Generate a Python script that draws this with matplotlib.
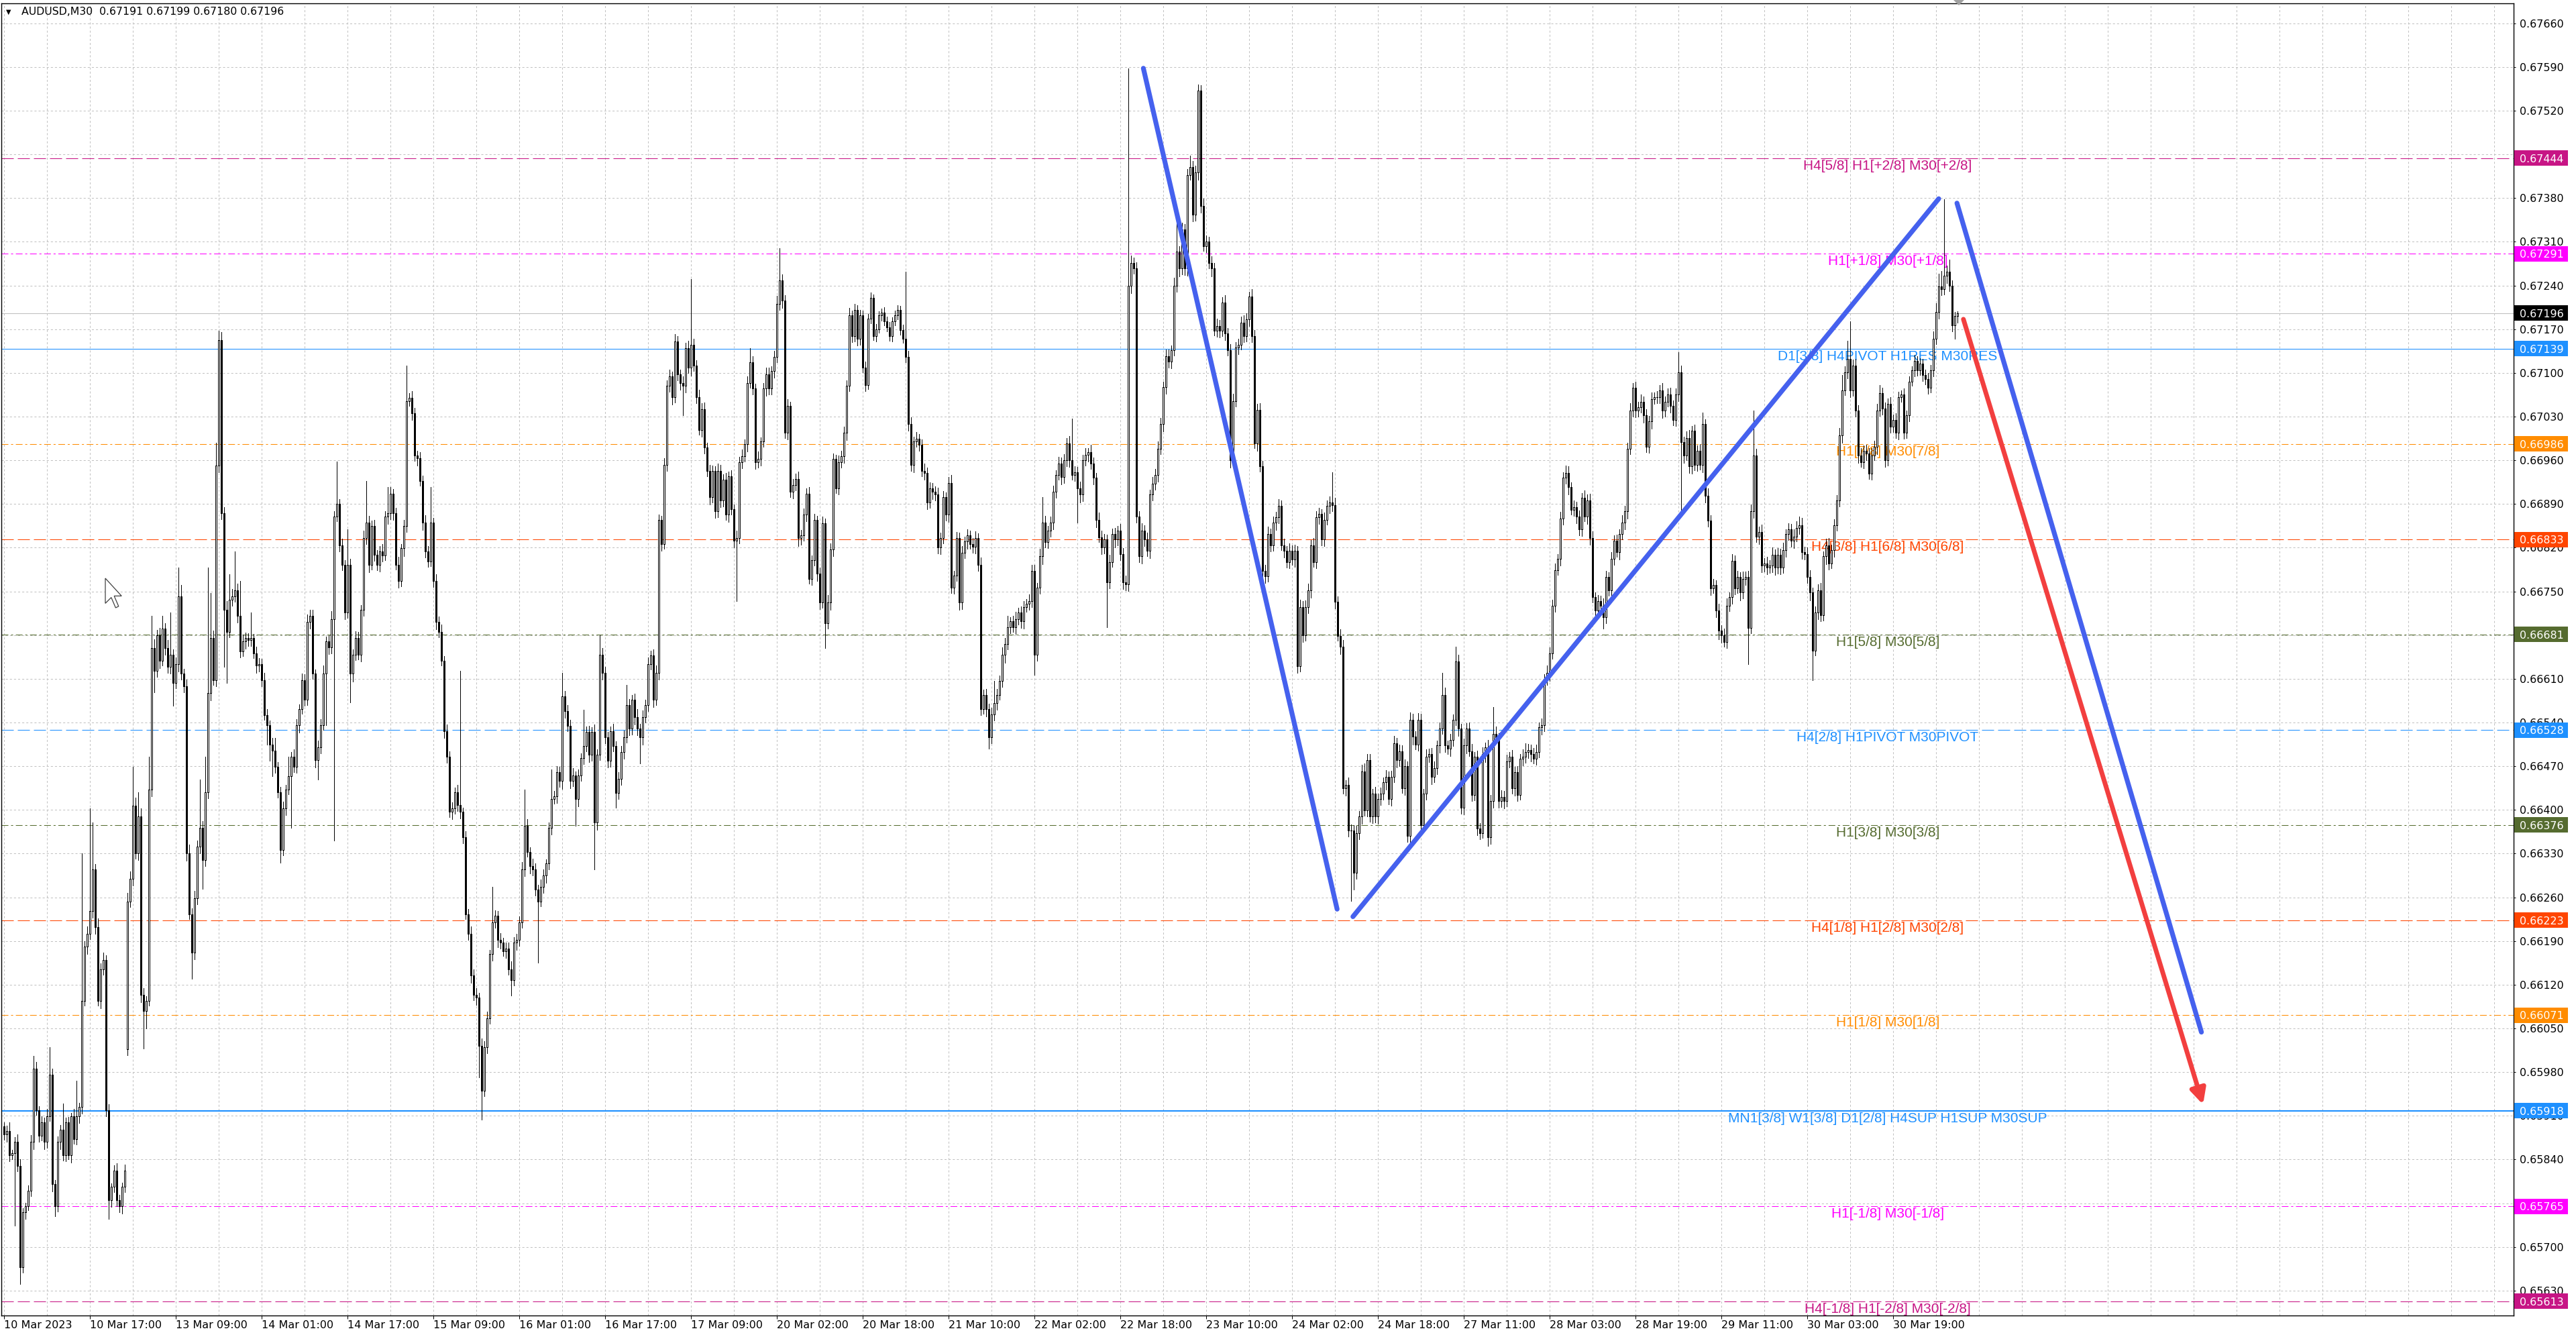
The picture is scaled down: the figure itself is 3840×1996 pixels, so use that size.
import numpy as np
import matplotlib
matplotlib.use("Agg")
import matplotlib.pyplot as plt
from matplotlib.patches import Rectangle, Polygon
from matplotlib.transforms import blended_transform_factory

plt.rcParams['font.family'] = 'DejaVu Sans'
plt.rcParams['lines.scale_dashes'] = False

# ================== data (prices in points above 0.65000) ==================
BASE = 0.65
FIRST_OPEN = 893
GAP_OPEN = {46: 1017}          # monday gap after the weekend

CLOSE = [
    880, 885, 847, 850, 868, 830, 667, 755, 765, 790, 868, 986, 919, 878, 900, 868,
    909, 976, 801, 765, 868, 888, 847, 899, 847, 909, 873, 909, 924, 1094, 1181, 1202,
    1238, 1305, 1212, 1094, 1145, 1160, 919, 775, 796, 822, 775, 765, 796, 822, 1253, 1290,
    1407, 1330, 1390, 1104, 1078, 1094, 1433, 1659, 1623, 1680, 1639, 1690, 1659, 1629, 1649, 1603,
    1634, 1742, 1618, 1598, 1330, 1233, 1171, 1258, 1341, 1371, 1320, 1428, 1587, 1675, 1608, 1952,
    2153, 1875, 1721, 1685, 1737, 1742, 1752, 1711, 1654, 1670, 1675, 1672, 1675, 1651, 1631, 1634,
    1608, 1552, 1536, 1505, 1495, 1469, 1428, 1336, 1402, 1433, 1454, 1485, 1469, 1536, 1562, 1608,
    1577, 1701, 1711, 1618, 1480, 1500, 1536, 1618, 1670, 1660, 1706, 1870, 1890, 1824, 1793, 1716,
    1793, 1618, 1649, 1675, 1649, 1721, 1835, 1860, 1793, 1855, 1809, 1793, 1814, 1808, 1870, 1875,
    1906, 1875, 1793, 1767, 1819, 1855, 2055, 2060, 2035, 1968, 1963, 1927, 1860, 1814, 1798, 1860,
    1767, 1701, 1685, 1639, 1526, 1485, 1397, 1402, 1428, 1408, 1397, 1356, 1233, 1202, 1135, 1104,
    1099, 1022, 950, 1020, 1066, 1169, 1220, 1230, 1192, 1188, 1174, 1178, 1145, 1127, 1188, 1192,
    1220, 1305, 1375, 1333, 1310, 1305, 1272, 1253, 1277, 1295, 1314, 1371, 1418, 1422, 1460, 1446,
    1582, 1558, 1535, 1446, 1455, 1418, 1455, 1483, 1502, 1525, 1488, 1525, 1380, 1488, 1648, 1619,
    1516, 1479, 1526, 1502, 1427, 1450, 1493, 1516, 1568, 1530, 1577, 1549, 1530, 1516, 1549, 1568,
    1633, 1647, 1577, 1619, 1864, 1826, 1953, 2079, 2094, 2061, 2150, 2098, 2084, 2079, 2140, 2108,
    2145, 2112, 2061, 2009, 2042, 1981, 1943, 1901, 1943, 1878, 1943, 1896, 1929, 1873, 1934, 1882,
    1831, 1835, 1957, 1967, 1986, 2084, 2117, 2075, 1957, 1962, 1990, 2075, 2098, 2075, 2103, 2126,
    2211, 2248, 2216, 2004, 2047, 1910, 1920, 1930, 1835, 1840, 1873, 1906, 1770, 1800, 1864, 1779,
    1732, 1859, 1699, 1732, 1817, 1962, 1915, 1957, 1967, 2004, 2079, 2192, 2159, 2201, 2155, 2192,
    2108, 2080, 2187, 2220, 2159, 2170, 2192, 2197, 2183, 2173, 2159, 2183, 2192, 2201, 2169, 2155,
    2126, 2018, 1953, 1990, 1995, 1985, 1943, 1940, 1892, 1915, 1910, 1905, 1821, 1835, 1901, 1873,
    1924, 1756, 1775, 1835, 1732, 1812, 1830, 1840, 1826, 1822, 1835, 1792, 1562, 1584, 1562, 1516,
    1553, 1571, 1584, 1607, 1648, 1666, 1693, 1702, 1693, 1706, 1716, 1702, 1725, 1730, 1734, 1783,
    1648, 1756, 1806, 1860, 1829, 1847, 1860, 1910, 1937, 1955, 1933, 1960, 1987, 1960, 1937, 1941,
    1915, 1905, 1960, 1969, 1973, 1955, 1932, 1865, 1837, 1820, 1833, 1765, 1797, 1842, 1833, 1847,
    1810, 1765, 1761, 2240, 2276, 2267, 1870, 1806, 1847, 1833, 1815, 1905, 1923, 1937, 1978, 2018,
    2077, 2127, 2118, 2136, 2240, 2294, 2267, 2330, 2267, 2417, 2430, 2353, 2421, 2552, 2367, 2303,
    2310, 2276, 2267, 2168, 2175, 2168, 2213, 2163, 2136, 1960, 2055, 2141, 2145, 2181, 2159, 2186,
    2222, 2159, 1987, 2041, 1951, 1783, 1774, 1842, 1824, 1860, 1869, 1887, 1824, 1815, 1797, 1815,
    1801, 1815, 1630, 1725, 1680, 1725, 1752, 1824, 1797, 1869, 1874, 1833, 1865, 1887, 1892, 1888,
    1733, 1679, 1661, 1435, 1440, 1367, 1367, 1299, 1363, 1390, 1462, 1399, 1480, 1390, 1426, 1390,
    1417, 1426, 1444, 1453, 1417, 1453, 1507, 1480, 1494, 1435, 1470, 1358, 1544, 1517, 1505, 1544,
    1376, 1426, 1485, 1489, 1453, 1467, 1503, 1530, 1584, 1503, 1498, 1512, 1544, 1638, 1530, 1403,
    1503, 1530, 1494, 1424, 1485, 1370, 1363, 1489, 1500, 1356, 1414, 1522, 1515, 1414, 1421, 1414,
    1478, 1485, 1435, 1460, 1424, 1482, 1485, 1493, 1496, 1490, 1482, 1493, 1532, 1536, 1608, 1619,
    1651, 1727, 1784, 1802, 1867, 1932, 1940, 1917, 1881, 1885, 1870, 1849, 1900, 1870, 1896, 1835,
    1741, 1719, 1734, 1727, 1709, 1773, 1752, 1802, 1831, 1813, 1842, 1860, 1878, 1978, 2040, 2076,
    2040, 2045, 2054, 2032, 1982, 2022, 2058, 2061, 2061, 2072, 2040, 2054, 2065, 2047, 2025, 2065,
    2101, 1989, 1968, 1996, 1950, 2007, 1953, 1975, 1953, 2018, 1903, 1863, 1755, 1760, 1719, 1687,
    1680, 1669, 1727, 1741, 1799, 1755, 1773, 1748, 1770, 1773, 1691, 1878, 1968, 1838, 1845, 1791,
    1795, 1788, 1791, 1809, 1788, 1809, 1788, 1816, 1842, 1849, 1831, 1838, 1852, 1856, 1813, 1810,
    1773, 1748, 1655, 1716, 1752, 1712, 1806, 1824, 1795, 1816, 1856, 1896, 2000, 2072, 2101, 2122,
    2072, 2112, 2040, 1968, 1957, 1975, 1971, 1939, 1968, 1982, 2040, 2068, 2043, 1960, 2050, 2014,
    2025, 2004, 2061, 2065, 2004, 2032, 2086, 2104, 2119, 2104, 2115, 2097, 2090, 2076, 2104, 2155,
    2198, 2238, 2234, 2256, 2262, 2240, 2176, 2191, 2196,
]

# upper / lower wick beyond the body, points
UP = [
    6, 9, 14, 5, 8, 12, 10, 7, 6, 9, 11, 8, 10, 6, 9, 7,
    12, 8, 10, 6, 9, 7, 11, 8, 9, 6, 12, 10, 7, 15, 9, 11,
    10, 12, 8, 14, 9, 11, 7, 10, 6, 9, 12, 8, 7, 10, 14, 11,
    9, 13, 8, 12, 10, 7, 11, 9, 14, 8, 12, 10, 9, 13, 11, 8,
    10, 9, 12, 8, 11, 14, 9, 12, 10, 8, 11, 9, 13, 10, 12, 9,
    8, 11, 10, 13, 9, 12, 8, 10, 7, 11, 9, 8, 12, 7, 10, 9,
    8, 11, 9, 7, 10, 12, 8, 9, 11, 7, 10, 8, 12, 9, 7, 10,
    9, 12, 8, 10, 7, 11, 9, 13, 8, 10, 12, 9, 11, 8, 10, 7,
    12, 9, 8, 11, 10, 7, 12, 9, 11, 8, 10, 7, 9, 12, 8, 10,
    11, 8, 9, 12, 7, 10, 9, 8, 11, 9, 7, 10, 8, 12, 9, 11,
    8, 10, 9, 12, 7, 11, 9, 10, 8, 12, 9, 7, 10, 8, 11, 9,
    10, 8, 12, 9, 11, 7, 10, 9, 8, 11, 7, 10, 9, 12, 8, 10,
    9, 11, 8, 10, 7, 12, 9, 8, 11, 10, 7, 9, 12, 8, 10, 9,
    11, 8, 10, 9, 12, 7, 10, 8, 11, 9, 10, 7, 12, 9, 8, 11,
    10, 9, 7, 12, 8, 10, 9, 11, 8, 10, 7, 9, 12, 8, 10, 9,
    11, 8, 10, 12, 9, 7, 10, 9, 11, 8, 12, 9, 7, 10, 8, 11,
    9, 10, 8, 12, 9, 11, 7, 10, 9, 8, 12, 10, 9, 11, 8, 10,
    7, 12, 9, 10, 8, 11, 9, 10, 8, 12, 7, 9, 11, 10, 8, 9,
    12, 9, 10, 8, 11, 7, 10, 9, 12, 8, 10, 9, 11, 8, 10, 7,
    9, 11, 8, 12, 10, 9, 7, 11, 8, 10, 9, 12, 8, 10, 7, 9,
    8, 10, 7, 9, 6, 8, 7, 6, 8, 7, 9, 6, 8, 7, 6, 8,
    10, 9, 11, 8, 10, 7, 9, 12, 8, 10, 9, 8, 11, 9, 10, 8,
    9, 12, 8, 10, 9, 11, 8, 10, 7, 9, 11, 8, 12, 9, 10, 8,
    11, 9, 10, 8, 12, 9, 10, 7, 9, 11, 8, 10, 9, 8, 11, 9,
    10, 8, 12, 9, 11, 8, 10, 9, 7, 11, 9, 10, 8, 12, 9, 10,
    8, 11, 9, 10, 7, 12, 9, 8, 11, 10, 9, 8, 12, 9, 10, 8,
    11, 9, 10, 14, 12, 9, 10, 8, 12, 9, 11, 8, 10, 9, 12, 10,
    9, 11, 10, 8, 12, 10, 9, 11, 8, 10, 12, 9, 11, 10, 9, 12,
    10, 8, 11, 9, 12, 10, 8, 11, 9, 10, 12, 8, 10, 9, 11, 10,
    8, 12, 10, 9, 11, 8, 10, 12, 9, 10, 8, 11, 9, 10, 8, 12,
    9, 10, 8, 12, 9, 11, 10, 8, 12, 9, 10, 8, 11, 9, 10, 8,
    12, 9, 10, 11, 8, 12, 10, 9, 11, 8, 10, 12, 9, 10, 8, 11,
    9, 10, 8, 11, 9, 10, 12, 8, 10, 9, 11, 8, 12, 10, 9, 11,
    10, 8, 12, 9, 10, 11, 8, 10, 9, 12, 8, 10, 9, 11, 10, 8,
    11, 9, 10, 12, 8, 10, 9, 11, 8, 12, 10, 9, 11, 8, 10, 9,
    10, 8, 11, 9, 10, 8, 12, 9, 10, 8, 9, 11, 8, 10, 9, 12,
    9, 10, 11, 8, 10, 9, 12, 10, 8, 11, 9, 10, 8, 12, 9, 10,
    11, 8, 10, 9, 12, 10, 8, 11, 9, 10, 8, 12, 9, 10, 11, 8,
    10, 9, 12, 8, 10, 9, 11, 8, 10, 9, 12, 8, 10, 11, 9, 10,
    8, 11, 9, 10, 12, 8, 10, 9, 11, 10, 8, 12, 9, 10, 8, 11,
    9, 10, 12, 8, 11, 9, 10, 8, 12, 9, 10, 11, 8, 10, 9, 12,
    8, 10, 9, 11, 8, 10, 9, 12, 8, 10, 9, 11, 10, 8, 12, 9,
    10, 11, 8, 10, 9, 12, 8, 10, 11, 9, 10, 8, 12, 9, 10, 8,
    11, 9, 10, 8, 12, 9, 10, 8, 11, 9, 10, 12, 8, 10, 9, 11,
    8, 10, 9, 7, 10, 8, 9, 7, 10, 8, 9, 7, 8, 10, 9, 12,
    14, 10, 9, 11, 10, 9, 8, 7, 3,
]
DN = [
    8, 12, 10, 7, 14, 9, 11, 8, 10, 6, 9, 12, 8, 10, 7, 11,
    9, 7, 12, 10, 8, 11, 9, 10, 7, 12, 8, 9, 11, 10, 8, 12,
    9, 11, 10, 8, 12, 9, 10, 14, 11, 8, 10, 9, 12, 8, 10, 9,
    11, 8, 10, 12, 9, 10, 8, 11, 9, 10, 12, 8, 10, 9, 11, 10,
    8, 12, 9, 10, 11, 8, 12, 10, 9, 11, 8, 10, 9, 12, 8, 10,
    11, 9, 10, 12, 8, 10, 9, 11, 10, 8, 12, 9, 10, 8, 11, 9,
    10, 8, 12, 9, 11, 10, 8, 12, 9, 10, 8, 11, 9, 10, 12, 8,
    10, 9, 11, 8, 12, 10, 9, 8, 11, 10, 9, 12, 8, 10, 9, 11,
    8, 10, 12, 9, 8, 11, 10, 9, 12, 8, 10, 9, 11, 10, 8, 12,
    9, 10, 8, 11, 9, 12, 10, 8, 10, 9, 11, 8, 12, 10, 9, 8,
    10, 12, 9, 8, 11, 10, 9, 12, 8, 10, 11, 9, 8, 10, 12, 9,
    11, 10, 12, 9, 10, 8, 11, 9, 12, 10, 8, 11, 9, 10, 8, 12,
    10, 9, 11, 8, 12, 10, 9, 11, 8, 10, 12, 9, 10, 8, 11, 9,
    12, 10, 9, 11, 8, 10, 12, 9, 10, 8, 11, 9, 10, 12, 8, 10,
    9, 11, 10, 8, 12, 9, 10, 11, 8, 10, 9, 12, 10, 8, 11, 9,
    10, 8, 12, 9, 10, 11, 8, 10, 9, 12, 8, 10, 11, 9, 10, 8,
    12, 9, 10, 8, 11, 10, 9, 12, 8, 10, 9, 11, 10, 8, 12, 9,
    10, 11, 8, 10, 9, 12, 8, 10, 11, 9, 10, 8, 12, 9, 10, 11,
    9, 10, 12, 8, 10, 9, 11, 8, 12, 10, 9, 11, 8, 10, 9, 12,
    10, 8, 11, 9, 12, 10, 8, 10, 9, 11, 12, 8, 10, 9, 11, 10,
    7, 9, 6, 8, 7, 9, 6, 8, 7, 6, 8, 9, 7, 6, 8, 7,
    9, 11, 10, 12, 8, 10, 9, 11, 10, 8, 12, 9, 10, 11, 8, 10,
    12, 9, 10, 8, 11, 10, 9, 12, 8, 10, 11, 9, 10, 8, 12, 10,
    9, 10, 11, 8, 10, 12, 9, 10, 8, 11, 9, 10, 12, 8, 10, 9,
    11, 9, 10, 12, 8, 10, 9, 11, 10, 8, 12, 9, 10, 11, 8, 10,
    9, 12, 10, 8, 11, 9, 10, 12, 8, 10, 9, 11, 10, 8, 12, 9,
    10, 11, 9, 10, 12, 8, 10, 9, 11, 10, 8, 12, 9, 10, 11, 8,
    12, 10, 9, 11, 8, 10, 12, 9, 10, 11, 8, 10, 9, 12, 10, 8,
    10, 9, 12, 8, 10, 11, 9, 10, 8, 12, 10, 9, 11, 8, 10, 9,
    11, 10, 8, 12, 9, 10, 11, 8, 10, 9, 12, 10, 8, 11, 9, 10,
    9, 12, 10, 8, 11, 9, 10, 12, 8, 10, 11, 9, 10, 8, 12, 9,
    10, 8, 11, 9, 12, 10, 8, 11, 9, 10, 12, 8, 10, 9, 11, 10,
    12, 9, 10, 11, 8, 10, 9, 12, 10, 8, 11, 9, 10, 12, 8, 10,
    9, 11, 10, 8, 12, 9, 10, 11, 8, 10, 9, 12, 10, 8, 11, 9,
    10, 12, 8, 10, 9, 11, 10, 8, 12, 9, 10, 11, 8, 10, 9, 12,
    8, 10, 9, 12, 10, 8, 11, 9, 10, 12, 8, 10, 9, 11, 10, 8,
    12, 9, 10, 8, 11, 10, 9, 12, 8, 10, 11, 9, 10, 8, 12, 10,
    9, 11, 10, 12, 8, 10, 9, 11, 10, 8, 12, 9, 10, 11, 8, 10,
    11, 10, 8, 12, 9, 10, 11, 8, 10, 9, 12, 10, 8, 11, 9, 10,
    10, 9, 12, 8, 10, 11, 9, 10, 8, 12, 10, 9, 11, 8, 10, 9,
    12, 8, 10, 9, 11, 10, 8, 12, 9, 10, 11, 8, 10, 9, 12, 10,
    9, 11, 8, 10, 12, 9, 10, 8, 11, 10, 9, 12, 8, 10, 11, 9,
    10, 12, 9, 8, 11, 10, 9, 12, 10, 8, 11, 9, 10, 12, 8, 10,
    11, 9, 10, 12, 8, 10, 11, 9, 10, 8, 12, 9, 10, 11, 8, 10,
    9, 8, 10, 7, 9, 8, 10, 7, 9, 8, 7, 10, 8, 9, 7, 10,
    9, 11, 10, 8, 12, 9, 10, 8, 11,
]

# long wicks (bar: price in points)
HIGH_SPIKE = {11: 1006, 17: 1020, 22: 930, 27: 966, 29: 1330, 32: 1402, 33: 1380, 48: 1469,
              50: 1428, 54: 1485, 55: 1711, 59: 1711, 62: 1716, 65: 1788, 66: 1760, 73: 1449,
              75: 1485, 76: 1788, 77: 1747, 79: 1988, 80: 2168, 81: 2165, 84: 1778, 86: 1814,
              88: 1767, 92: 1716, 101: 1515, 106: 1485, 114: 1721, 124: 1958, 128: 1850,
              135: 1927, 143: 1917, 150: 2112, 159: 1917, 170: 1623, 182: 1277, 194: 1432,
              204: 1465, 208: 1619, 216: 1560, 222: 1680, 232: 1600, 250: 2160, 256: 2250,
              278: 2140, 289: 2300, 336: 2262, 369: 1607, 374: 1711, 387: 1901, 396: 1996,
              398: 2027, 419: 2588, 437: 2353, 442: 2448, 445: 2556, 495: 1941, 536: 1620,
              541: 1661, 555: 1565, 567: 1507, 582: 1950, 624: 2133, 633: 2036, 652: 2040,
              669: 1870, 685: 2097, 687: 2151, 688: 2183, 721: 2259, 722: 2263, 723: 2378,
              725: 2281}
LOW_SPIKE = {4: 734, 6: 641, 19: 749, 39: 745, 52: 1018, 53: 1050, 56: 1588, 63: 1567,
             70: 1130, 74: 1274, 82: 1629, 83: 1603, 98: 1505, 99: 1479, 100: 1454, 103: 1315,
             107: 1371, 117: 1449, 120: 1536, 123: 1351, 129: 1572, 177: 972, 178: 904,
             189: 1103, 199: 1155, 213: 1375, 220: 1305, 228: 1403, 237: 1474, 253: 2032,
             273: 1734, 306: 1659, 367: 1498, 384: 1616, 400: 1860, 411: 1693, 502: 1254,
             503: 1272, 553: 1342, 596: 1690, 625: 1881, 639: 1673, 650: 1633, 674: 1608,
             727: 2155}

TIME_LABELS = ["10 Mar 2023", "10 Mar 17:00", "13 Mar 09:00", "14 Mar 01:00", "14 Mar 17:00",
               "15 Mar 09:00", "16 Mar 01:00", "16 Mar 17:00", "17 Mar 09:00", "20 Mar 02:00",
               "20 Mar 18:00", "21 Mar 10:00", "22 Mar 02:00", "22 Mar 18:00", "23 Mar 10:00",
               "24 Mar 02:00", "24 Mar 18:00", "27 Mar 11:00", "28 Mar 03:00", "28 Mar 19:00",
               "29 Mar 11:00", "30 Mar 03:00", "30 Mar 19:00"]
LABEL_STEP = 32     # bars between time labels
GRID_STEP = 16

PRICE_TICKS = [0.65630, 0.65700, 0.65770, 0.65840, 0.65910, 0.65980, 0.66050, 0.66120,
               0.66190, 0.66260, 0.66330, 0.66400, 0.66470, 0.66540, 0.66610, 0.66680,
               0.66750, 0.66820, 0.66890, 0.66960, 0.67030, 0.67100, 0.67170, 0.67240,
               0.67310, 0.67380, 0.67450, 0.67520, 0.67590, 0.67660]

LEVELS = [0.67444, 0.67291, 0.67139, 0.66986, 0.66833, 0.66681, 0.66528,
          0.66376, 0.66223, 0.66071, 0.65918, 0.65765, 0.65613]
LEVEL_TEXT = ["H4[5/8] H1[+2/8] M30[+2/8]", "H1[+1/8] M30[+1/8]",
              "D1[3/8] H4PIVOT H1RES M30RES", "H1[7/8] M30[7/8]",
              "H4[3/8] H1[6/8] M30[6/8]", "H1[5/8] M30[5/8]",
              "H4[2/8] H1PIVOT M30PIVOT", "H1[3/8] M30[3/8]",
              "H4[1/8] H1[2/8] M30[2/8]", "H1[1/8] M30[1/8]",
              "MN1[3/8] W1[3/8] D1[2/8] H4SUP H1SUP M30SUP", "H1[-1/8] M30[-1/8]",
              "H4[-1/8] H1[-2/8] M30[-2/8]"]
LEVEL_COLOR = ['#C71585', '#FF00FF', '#1E90FF', '#FF8C00', '#FF4500', '#556B2F', '#1E90FF',
               '#556B2F', '#FF4500', '#FF8C00', '#1E90FF', '#FF00FF', '#C71585']
LEVEL_STYLE = ['dash', 'dashdot', 'solid', 'dashdot', 'dash', 'dashdot', 'dash',
               'dashdot', 'dash', 'dashdot', 'solid2', 'dashdot', 'dash']
LABEL_BAR = 702
BID = 0.67196

# trend objects: (bar1, points1, bar2, points2)
BLUE_LINES = [(424.6, 2588, 496.8, 1241),
              (502.7, 1229, 721.0, 2379),
              (727.8, 2372, 818.9, 1044)]
RED_ARROW = (730.2, 2186, 819.5, 928)

# ================== build candles ==================
close = np.array(CLOSE, dtype=float)
n = len(close)
opn = np.empty(n)
opn[0] = FIRST_OPEN
opn[1:] = close[:-1]
for k, v in GAP_OPEN.items():
    opn[k] = v
hi = np.maximum(opn, close) + np.array(UP[:n], dtype=float)
lo = np.minimum(opn, close) - np.array(DN[:n], dtype=float)
for k, v in HIGH_SPIKE.items():
    hi[k] = max(hi[k], v)
for k, v in LOW_SPIKE.items():
    lo[k] = min(lo[k], v)

def px(p):
    return BASE + np.asarray(p, dtype=float) / 1e5

o_p, c_p, h_p, l_p = px(opn), px(close), px(hi), px(lo)
x = np.arange(n)

# ================== figure ==================
W, H = 3840, 1996
fig = plt.figure(figsize=(W / 100, H / 100), dpi=100, facecolor='white')
ax = fig.add_axes([2 / W, 35 / H, 3745 / W, 1956 / H])
ax.set_xlim(-1, 935.25)
ax.set_ylim(0.65590, 0.67692)
ax.set_facecolor('white')

for s in ax.spines.values():
    s.set_color('black')
    s.set_linewidth(1.0)

# grid
ax.set_yticks(PRICE_TICKS)
ax.set_yticklabels([f"{t:.5f}" for t in PRICE_TICKS])
ax.yaxis.tick_right()
ax.set_xticks(np.arange(len(TIME_LABELS)) * LABEL_STEP)
ax.set_xticklabels(TIME_LABELS)
ax.set_xticks(np.arange(GRID_STEP, 936, GRID_STEP), minor=True)
grid_kw = dict(color='#C0C0C0', linewidth=0.72, dashes=(2.2, 2.2))
ax.grid(True, axis='x', which='both', **grid_kw)
ax.grid(True, axis='y', which='major', **grid_kw)
ax.set_axisbelow(True)
ax.tick_params(axis='y', which='major', direction='out', length=2.2, width=0.72, pad=4.3,
               labelsize=11.4, colors='black')
ax.tick_params(axis='x', which='major', direction='out', length=3.6, width=0.72, pad=1.8,
               labelsize=11.5, colors='black')
ax.tick_params(axis='x', which='minor', length=0)
for lab in ax.get_xticklabels():
    lab.set_horizontalalignment('left')

# level lines
dash_map = {'dash': (12.96, 4.32), 'dashdot': (7.2, 2.9, 2.2, 2.9)}
for lvl, txt, col, sty in zip(LEVELS, LEVEL_TEXT, LEVEL_COLOR, LEVEL_STYLE):
    if sty == 'solid':
        ax.axhline(lvl, color=col, lw=0.75, zorder=1)
    elif sty == 'solid2':
        ax.axhline(lvl, color=col, lw=1.5, zorder=1)
    else:
        ax.axhline(lvl, color=col, lw=0.75, dashes=dash_map[sty], zorder=1)
    ax.annotate(txt, xy=(LABEL_BAR, lvl), xytext=(0, -1.5), textcoords='offset points',
                ha='center', va='top', color=col, fontsize=15, family='Liberation Sans',
                zorder=2)
ax.axhline(BID, color='#C0C0C0', lw=0.75, zorder=1)

# candles: crisp 1px wicks, narrow bodies as in the terminal
ax.vlines(x, l_p, h_p, color='black', lw=0.72, zorder=3, antialiased=False)
up = c_p >= o_p
dn = ~up
body_w = 0.5
ax.bar(x[up], c_p[up] - o_p[up], bottom=o_p[up], width=body_w, facecolor='white',
       edgecolor='black', linewidth=0.72, zorder=3.2, antialiased=False)
ax.bar(x[dn], o_p[dn] - c_p[dn], bottom=c_p[dn], width=body_w, facecolor='black',
       edgecolor='black', linewidth=0.72, zorder=3.2, antialiased=False)

# trend lines
for b1, p1, b2, p2 in BLUE_LINES:
    ax.plot([b1, b2], px([p1, p2]), color='#4561EE', lw=5.2, solid_capstyle='round', zorder=5)
b1, p1, b2, p2 = RED_ARROW
ax.annotate('', xy=(b2, px(p2)), xytext=(b1, px(p1)),
            arrowprops=dict(arrowstyle='-|>', color='#F23F3F', lw=5.0, mutation_scale=34,
                            shrinkA=0, shrinkB=0, capstyle='round'), zorder=5)

# price tags on the right scale
tags = list(zip(LEVELS, LEVEL_COLOR)) + [(BID, '#000000')]
trans = blended_transform_factory(fig.transFigure, ax.transData)
hh = 11.5 * (0.67692 - 0.65590) / 1956
for lvl, col in tags:
    ax.add_patch(Rectangle((3748 / W, lvl - hh), 80 / W, 2 * hh, transform=trans,
                           facecolor=col, edgecolor='none', zorder=10, clip_on=False))
    ax.text(3756 / W, lvl, f"{lvl:.5f}", transform=trans, color='white', fontsize=11.4,
            ha='left', va='center_baseline', zorder=11, clip_on=False)

# header
fig.text(9 / W, 1 - 18 / H, "\u25BC", fontsize=7, va='center', ha='left', color='black')
fig.text(32 / W, 1 - 18 / H, "AUDUSD,M30  0.67191 0.67199 0.67180 0.67196",
         fontsize=11.3, va='center', ha='left', color='black')

# chart-shift marker and mouse pointer
fig.patches.append(Polygon([(2912 / W, 1.0), (2928 / W, 1.0), (2920 / W, 1 - 8 / H)],
                           closed=True, transform=fig.transFigure, facecolor='#A0A0A0',
                           edgecolor='none'))
tip_x, tip_y = 157, 862
shape = [(0, 0), (0, 17), (4, 13), (7, 20), (9, 19), (6, 12), (11, 12)]
fig.patches.append(Polygon([((tip_x + 2.2 * dx) / W, 1 - (tip_y + 2.2 * dy) / H) for dx, dy in shape],
                           closed=True, transform=fig.transFigure, facecolor='white',
                           edgecolor='#404040', lw=0.9, zorder=20))

fig.savefig('out.png', dpi=100, facecolor='white')
